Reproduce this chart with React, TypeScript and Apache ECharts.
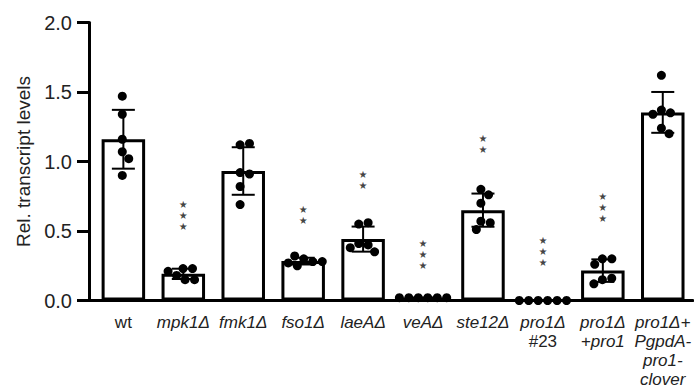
import React, { useEffect, useRef } from "react";
import * as echarts from "echarts";

const categories = [
  "wt",
  "mpk1Δ",
  "fmk1Δ",
  "fso1Δ",
  "laeAΔ",
  "veAΔ",
  "ste12Δ",
  "pro1Δ\n#23",
  "pro1Δ\n+pro1",
  "pro1Δ+\nPgpdA-\npro1-\nclover",
];

const wtVals = [1.47, 1.34, 1.16, 1.07, 1.02, 0.9];
const mpk1Vals = [0.23, 0.23, 0.18, 0.21, 0.15, 0.15];
const fmk1Vals = [1.12, 1.13, 0.92, 0.91, 0.82, 0.69];
const fso1Vals = [0.3, 0.28, 0.32, 0.27, 0.28, 0.25];
const laeAVals = [0.55, 0.56, 0.41, 0.4, 0.38, 0.35];
const veAVals = [0.02, 0.02, 0.02, 0.02, 0.02, 0.02];
const ste12Vals = [0.8, 0.76, 0.7, 0.57, 0.56, 0.51];
const pro1Vals = [0, 0, 0, 0, 0, 0];
const pro1CompVals = [0.3, 0.3, 0.26, 0.15, 0.16, 0.12];
const pro1CloverVals = [1.62, 1.37, 1.35, 1.34, 1.24, 1.2];

const groups = [
  wtVals,
  mpk1Vals,
  fmk1Vals,
  fso1Vals,
  laeAVals,
  veAVals,
  ste12Vals,
  pro1Vals,
  pro1CompVals,
  pro1CloverVals,
];

// significance annotations
const starCount = [0, 3, 0, 2, 2, 3, 2, 3, 3, 0];
const starLevel = [0, 0.615, 0, 0.615, 0.867, 0.332, 1.127, 0.349, 0.668, 0];

const yTicks = [0, 0.5, 1.0, 1.5, 2.0];

const mean = (a: number[]) => a.reduce((s, v) => s + v, 0) / a.length;
const sd = (a: number[]) => {
  const m = mean(a);
  return Math.sqrt(a.reduce((s, v) => s + (v - m) * (v - m), 0) / (a.length - 1));
};

// beeswarm layout (pixel-based, converted to category units)
const PX_PER_CAT = 60.17;
const PX_PER_UNIT = 139;
const DOT = 9.5;
function swarm(vals: number[]): number[] {
  const placed: { x: number; y: number }[] = [];
  const out: number[] = [];
  vals.forEach((v) => {
    const y = v * PX_PER_UNIT;
    const cands = [0];
    placed.forEach((p) => {
      const dy = Math.abs(p.y - y);
      if (dy < DOT) {
        const dx = Math.sqrt(DOT * DOT - dy * dy);
        cands.push(p.x + dx, p.x - dx);
      }
    });
    cands.sort((a, b) => Math.abs(a) - Math.abs(b));
    let chosen = 0;
    for (const c of cands) {
      if (placed.every((p) => Math.hypot(p.x - c, p.y - y) >= DOT - 1e-6)) {
        chosen = c;
        break;
      }
    }
    placed.push({ x: chosen, y });
    out.push(chosen);
  });
  const m = mean(out);
  return out.map((o) => (o - m) / PX_PER_CAT);
}

const FONT = "Liberation Sans, Arial, sans-serif";
const TEXT = "#222";

export default function App() {
  const ref = useRef<HTMLDivElement>(null);
  useEffect(() => {
    if (!ref.current) return;
    const chart = echarts.init(ref.current, undefined, { renderer: "svg" });

    const means = groups.map(mean);
    const sds = groups.map(sd);
    const dots: number[][] = [];
    groups.forEach((g, i) => {
      const offs = swarm(g);
      g.forEach((v, j) => dots.push([i + offs[j], v]));
    });
    const stars = starCount
      .map((c, i) => (c > 0 ? [i, starLevel[i], c] : null))
      .filter((d) => d !== null);

    chart.setOption({
      animation: false,
      grid: { left: 93.4, top: 22.5, width: 601.7, height: 278 },
      xAxis: [
        {
          type: "category",
          data: categories,
          axisLine: { onZero: false, lineStyle: { color: "#000", width: 3 } },
          axisTick: { show: false },
          axisLabel: {
            interval: 0,
            margin: 12,
            color: TEXT,
            formatter: (val: string) =>
              val
                .split("\n")
                .map((l) => (l === "wt" || l.startsWith("#") ? `{n|${l}}` : `{i|${l}}`))
                .join("\n"),
            rich: {
              i: { fontStyle: "italic", fontSize: 17, lineHeight: 19, fontFamily: FONT, color: TEXT },
              n: { fontStyle: "normal", fontSize: 17, lineHeight: 19, fontFamily: FONT, color: TEXT },
            },
          },
        },
        { type: "value", min: -0.5, max: 9.5, show: false },
      ],
      yAxis: {
        type: "value",
        min: 0,
        max: 2,
        interval: 0.5,
        offset: 4.4,
        axisLine: { show: true, onZero: false, lineStyle: { color: "#000", width: 3 } },
        axisTick: { show: true, length: 12, lineStyle: { color: "#000", width: 3 } },
        splitLine: { show: false },
        axisLabel: {
          margin: 17,
          fontSize: 20,
          fontFamily: FONT,
          color: TEXT,
          formatter: (v: number) => (yTicks.includes(v) ? v.toFixed(1) : ""),
        },
        name: "Rel. transcript levels",
        nameLocation: "middle",
        nameRotate: 90,
        nameGap: 49,
        nameTextStyle: { fontSize: 19, fontFamily: FONT, color: TEXT },
      },
      graphic: [
        { type: "rect", shape: { x: 87.5, y: 299, width: 7, height: 3 }, style: { fill: "#000" } },
      ],
      series: [
        {
          type: "bar",
          data: means,
          barWidth: 43.5,
          itemStyle: { color: "#fff", borderColor: "#000", borderWidth: 3 },
          z: 2,
        },
        {
          type: "custom",
          data: means.map((m, i) => [i, m, sds[i]]),
          encode: { x: 0, y: 1 },
          z: 3,
          renderItem: (params: any, api: any) => {
            const i = api.value(0);
            const m = api.value(1);
            const s = api.value(2);
            const top = api.coord([i, m + s]);
            const bot = api.coord([i, m - s]);
            const hw = 11.5;
            const st = { stroke: "#000", lineWidth: 2 };
            return {
              type: "group",
              children: [
                { type: "line", shape: { x1: top[0], y1: top[1], x2: bot[0], y2: bot[1] }, style: st },
                { type: "line", shape: { x1: top[0] - hw, y1: top[1], x2: top[0] + hw, y2: top[1] }, style: st },
                { type: "line", shape: { x1: bot[0] - hw, y1: bot[1], x2: bot[0] + hw, y2: bot[1] }, style: st },
              ],
            };
          },
        },
        {
          type: "scatter",
          xAxisIndex: 1,
          data: dots,
          symbolSize: 9,
          itemStyle: { color: "#000", opacity: 1 },
          z: 4,
        },
        {
          type: "scatter",
          xAxisIndex: 0,
          data: stars,
          symbolSize: 1,
          itemStyle: { color: "transparent" },
          z: 5,
          label: {
            show: true,
            position: "inside",
            fontSize: 10,
            lineHeight: 11,
            fontFamily: "DejaVu Sans",
            color: "#111",
            formatter: (p: any) => Array(p.value[2]).fill("★").join("\n"),
          },
        },
      ],
    });
    return () => chart.dispose();
  }, []);
  return (
    <div
      ref={ref}
      style={{ position: "absolute", left: 0, top: 0, width: 694, height: 388 }}
    />
  );
}
